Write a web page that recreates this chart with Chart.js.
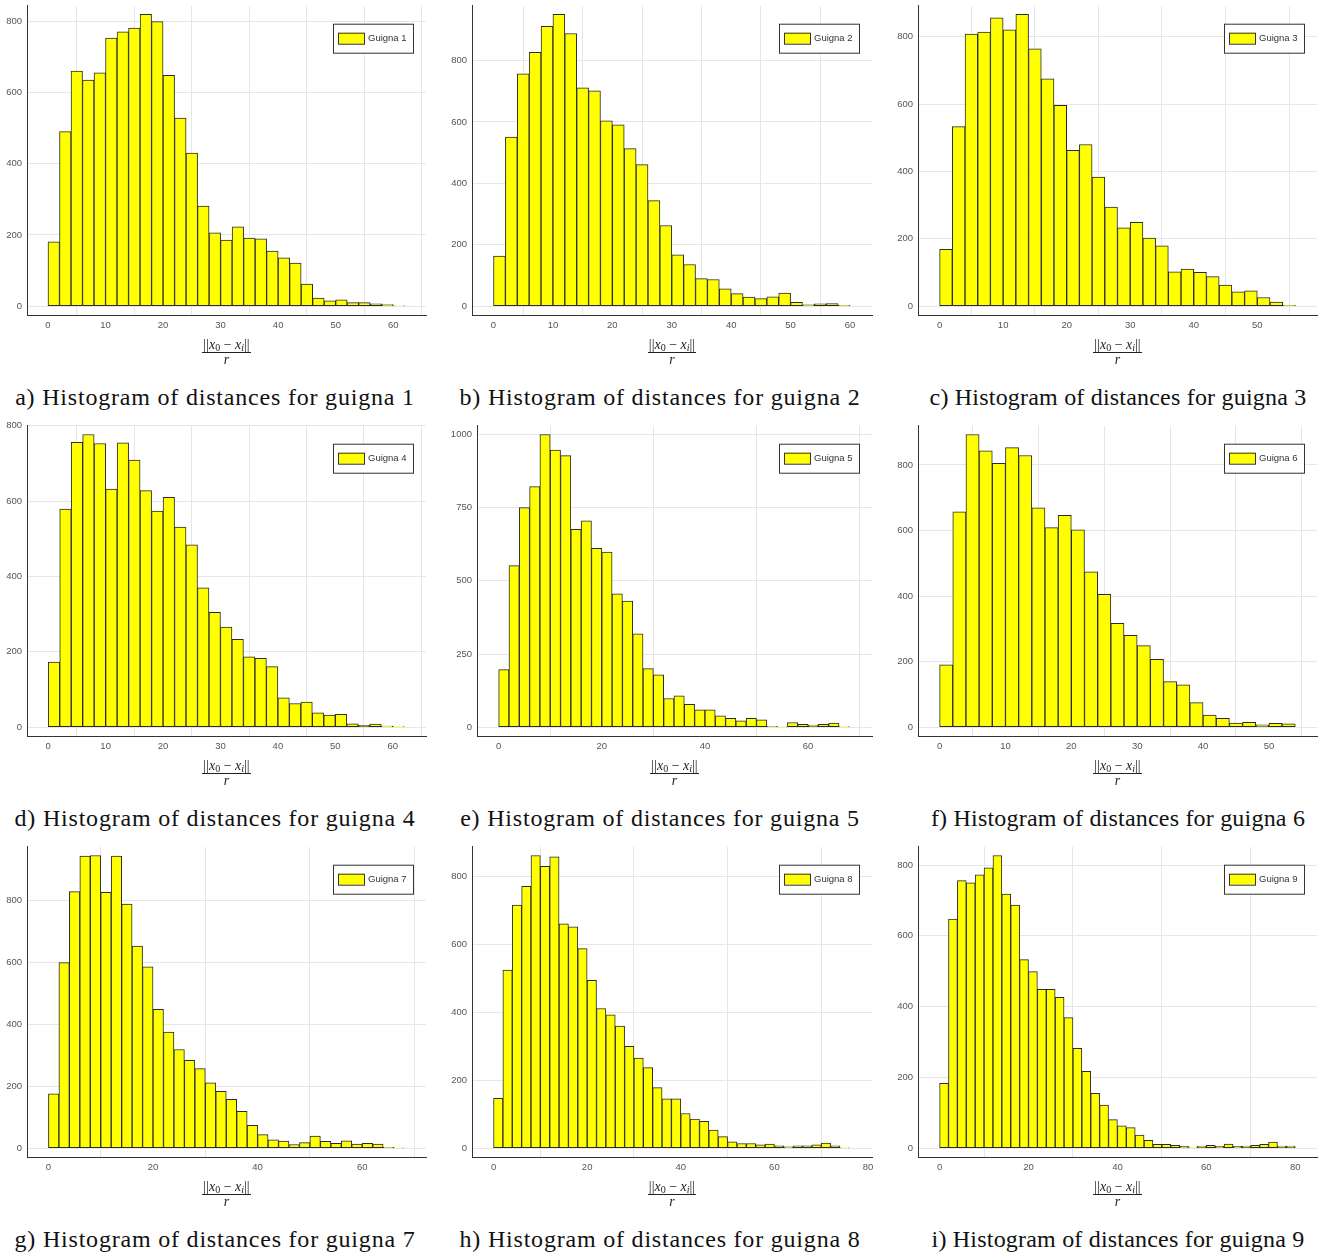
<!DOCTYPE html>
<html>
<head>
<meta charset="utf-8">
<script src="https://cdn.jsdelivr.net/npm/chart.js@4.4.1/dist/chart.umd.min.js"></script>
<style>
  body { margin: 0; background: #fff; }
  #page { position: relative; width: 1319px; height: 1253px; overflow: hidden; }
  canvas { position: absolute; }
  .frac { position: absolute; width: 120px; text-align: center; font-family: 'Liberation Serif', serif; color: #222; }
  .frac .num { display: inline-block; font-size: 14px; line-height: 15px; border-bottom: 1px solid #222; padding: 0 1px; }
  .frac .den { font-size: 14px; line-height: 14px; font-style: italic; }
  .frac sub { font-size: 10px; line-height: 0; vertical-align: -2px; }
  .caption { position: absolute; width: 500px; text-align: center; font-family: 'Liberation Serif', serif;
             font-size: 24px; line-height: 24px; letter-spacing: 0.8px; color: #111; white-space: nowrap; }
</style>
</head>
<body>
<div id="page"></div>
<script>
// bin counts, bins of width 2 starting at 0
const binWidth = 2;
const guigna1 = [181, 490, 660, 635, 655, 753, 770, 781, 819, 799, 648, 528, 430, 281, 206, 186, 223, 191, 189, 155, 136, 121, 62, 23, 15, 18, 10, 10, 7, 5, 1];
const guigna2 = [163, 551, 757, 827, 911, 950, 888, 711, 701, 604, 591, 513, 461, 344, 263, 167, 136, 90, 87, 57, 41, 30, 25, 31, 43, 13, 5, 8, 9, 3];
const guigna3 = [169, 533, 808, 814, 856, 820, 866, 764, 675, 596, 463, 480, 383, 294, 233, 249, 202, 179, 102, 110, 101, 88, 63, 43, 46, 26, 12, 3];
const guigna4 = [173, 579, 756, 777, 753, 632, 755, 709, 628, 574, 610, 531, 484, 370, 305, 266, 233, 187, 183, 161, 78, 63, 67, 38, 32, 34, 9, 5, 8, 3, 2];
const guigna5 = [197, 552, 750, 822, 1000, 947, 928, 676, 705, 611, 598, 456, 431, 319, 200, 179, 98, 107, 78, 59, 59, 39, 30, 22, 30, 25, 3, 1, 16, 10, 7, 10, 14, 2];
const guigna6 = [190, 657, 893, 843, 805, 853, 829, 669, 609, 646, 602, 474, 405, 317, 280, 249, 207, 139, 129, 75, 37, 27, 13, 15, 7, 12, 10];
const guigna7 = [176, 600, 829, 944, 946, 827, 944, 789, 653, 586, 449, 375, 319, 284, 257, 211, 184, 158, 119, 74, 44, 27, 23, 12, 18, 39, 22, 16, 24, 13, 16, 13, 3, 1];
const guigna8 = [147, 524, 715, 770, 861, 829, 857, 660, 651, 587, 494, 411, 392, 359, 300, 265, 237, 178, 145, 145, 102, 86, 79, 53, 34, 19, 14, 14, 10, 12, 7, 4, 7, 7, 10, 15, 7, 1];
const guigna9 = [183, 647, 756, 750, 772, 792, 827, 718, 687, 533, 499, 449, 449, 426, 369, 282, 217, 155, 122, 81, 63, 58, 37, 22, 11, 11, 8, 5, 2, 6, 8, 5, 12, 5, 6, 8, 11, 17, 6, 6];

// tick labels
const xTicks10to60 = [0, 10, 20, 30, 40, 50, 60];
const xTicks10to50 = [0, 10, 20, 30, 40, 50];
const xTicks20to60 = [0, 20, 40, 60];
const xTicks20to80 = [0, 20, 40, 60, 80];
const yTicks200 = [0, 200, 400, 600, 800];
const yTicks250 = [0, 250, 500, 750, 1000];

const seriesNames = ['Guigna 1', 'Guigna 2', 'Guigna 3', 'Guigna 4', 'Guigna 5', 'Guigna 6', 'Guigna 7', 'Guigna 8', 'Guigna 9'];
const captions = [
  'a) Histogram of distances for guigna 1', 'b) Histogram of distances for guigna 2', 'c) Histogram of distances for guigna 3',
  'd) Histogram of distances for guigna 4', 'e) Histogram of distances for guigna 5', 'f) Histogram of distances for guigna 6',
  'g) Histogram of distances for guigna 7', 'h) Histogram of distances for guigna 8', 'i) Histogram of distances for guigna 9'
];

// layout: plot box in page pixels and axis ranges
const panels = [
  { data: guigna1, xt: xTicks10to60, yt: yTicks200, left: 27,  right: 426,  top: 5,   bottom: 315,  xmin: -3.65, xmax: 65.7 },
  { data: guigna2, xt: xTicks10to60, yt: yTicks200, left: 472, right: 872,  top: 5,   bottom: 315,  xmin: -3.62, xmax: 63.7 },
  { data: guigna3, xt: xTicks10to50, yt: yTicks200, left: 918, right: 1317, top: 5,   bottom: 315,  xmin: -3.4,  xmax: 59.4 },
  { data: guigna4, xt: xTicks10to60, yt: yTicks200, left: 27,  right: 426,  top: 425, bottom: 736,  xmin: -3.7,  xmax: 65.8 },
  { data: guigna5, xt: xTicks20to60, yt: yTicks250, left: 477, right: 872,  top: 425, bottom: 736,  xmin: -4.2,  xmax: 72.4 },
  { data: guigna6, xt: xTicks10to50, yt: yTicks200, left: 918, right: 1317, top: 425, bottom: 736,  xmin: -3.28, xmax: 57.3 },
  { data: guigna7, xt: xTicks20to60, yt: yTicks200, left: 27,  right: 426,  top: 846, bottom: 1157, xmin: -4.1,  xmax: 72.2 },
  { data: guigna8, xt: xTicks20to80, yt: yTicks200, left: 472, right: 872,  top: 846, bottom: 1157, xmin: -4.6,  xmax: 80.85 },
  { data: guigna9, xt: xTicks20to80, yt: yTicks200, left: 918, right: 1317, top: 846, bottom: 1157, xmin: -4.86, xmax: 84.9 }
];
const captionCenters = [215, 660, 1118];
const captionSpacing = ['0.8px', '0.8px', '0.2px'];
const captionTops = [385, 806, 1227];

const tickFont = { family: "'Liberation Sans Narrow', 'Liberation Sans', sans-serif", size: 9.5 };
const PAD_L = 40, PAD_T = 10, PAD_R = 10, PAD_B = 30;

const legendBox = {
  id: 'legendBox',
  afterDatasetsDraw(chart) {
    const ctx = chart.ctx;
    const a = chart.chartArea;
    const w = 80, h = 29;
    const x = a.right - 13 - w, y = a.top + 18;
    ctx.save();
    ctx.fillStyle = '#fff';
    ctx.fillRect(x, y, w, h);
    ctx.strokeStyle = '#333';
    ctx.lineWidth = 1;
    ctx.strokeRect(x + 0.5, y + 0.5, w, h);
    ctx.fillStyle = '#ffff00';
    ctx.fillRect(x + 5, y + 9, 26, 11);
    ctx.strokeRect(x + 5.5, y + 9.5, 26, 11);
    ctx.fillStyle = '#333';
    ctx.font = "9.5px 'Liberation Sans Narrow', 'Liberation Sans', sans-serif";
    ctx.textBaseline = 'middle';
    ctx.fillText(chart.data.datasets[0].label, x + 35, y + 15);
    ctx.restore();
  }
};

const page = document.getElementById('page');

panels.forEach((p, i) => {
  const canvas = document.createElement('canvas');
  const cw = p.right - p.left + PAD_L + PAD_R;
  const ch = p.bottom - p.top + PAD_T + PAD_B;
  canvas.width = cw;
  canvas.height = ch;
  canvas.style.left = (p.left - PAD_L) + 'px';
  canvas.style.top = (p.top - PAD_T) + 'px';
  canvas.style.width = cw + 'px';
  canvas.style.height = ch + 'px';
  page.appendChild(canvas);

  const peak = Math.max(...p.data);
  const points = p.data.map((v, k) => ({ x: k * binWidth + binWidth / 2, y: v }));

  new Chart(canvas.getContext('2d'), {
    type: 'bar',
    data: {
      datasets: [{
        label: seriesNames[i],
        data: points,
        backgroundColor: '#ffff00',
        borderColor: '#2a2a2a',
        borderWidth: 1,
        borderSkipped: false,
        barPercentage: 1,
        categoryPercentage: 1
      }]
    },
    options: {
      responsive: false,
      animation: false,
      devicePixelRatio: 1,
      layout: { padding: { top: PAD_T, right: PAD_R, left: 0, bottom: 0 } },
      plugins: { legend: { display: false }, tooltip: { enabled: false } },
      scales: {
        x: {
          type: 'linear',
          offset: false,
          min: p.xmin,
          max: p.xmax,
          afterBuildTicks: (s) => { s.ticks = p.xt.map(v => ({ value: v })); },
          afterFit: (s) => { s.height = PAD_B; },
          grid: { color: '#e6e6e6', lineWidth: 1, drawTicks: false },
          border: { display: true, color: '#333', width: 1 },
          ticks: { font: tickFont, color: '#555', padding: 5, maxRotation: 0, callback: (v) => String(v) }
        },
        y: {
          min: -0.03 * peak,
          max: 1.03 * peak,
          afterBuildTicks: (s) => { s.ticks = p.yt.filter(v => v <= 1.03 * peak).map(v => ({ value: v })); },
          afterFit: (s) => { s.width = PAD_L; },
          grid: { color: '#e6e6e6', lineWidth: 1, drawTicks: false },
          border: { display: true, color: '#333', width: 1 },
          ticks: { font: tickFont, color: '#555', padding: 5, callback: (v) => String(v) }
        }
      }
    },
    plugins: [legendBox]
  });

  // axis label: ||x0 - xi|| / r
  const frac = document.createElement('div');
  frac.className = 'frac';
  frac.style.left = ((p.left + p.right) / 2 - 60) + 'px';
  frac.style.top = (p.bottom + 20) + 'px';
  frac.innerHTML = '<span class="num">||<i>x</i><sub>0</sub> − <i>x</i><sub><i>i</i></sub>||</span><div class="den">r</div>';
  page.appendChild(frac);

  const cap = document.createElement('div');
  cap.className = 'caption';
  cap.style.left = (captionCenters[i % 3] - 250) + 'px';
  cap.style.top = captionTops[Math.floor(i / 3)] + 'px';
  cap.style.letterSpacing = captionSpacing[i % 3];
  cap.textContent = captions[i];
  page.appendChild(cap);
});
</script>
</body>
</html>
